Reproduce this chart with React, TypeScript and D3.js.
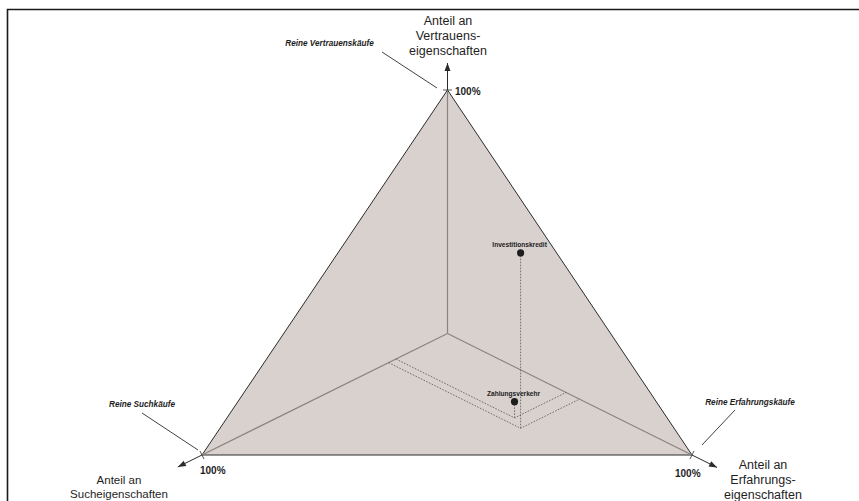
import React from "react";
import * as d3 from "d3";

const axisTitles = [
  ["Anteil an", "Vertrauens-", "eigenschaften"],
  ["Anteil an", "Sucheigenschaften"],
  ["Anteil an", "Erfahrungs-", "eigenschaften"],
];
const pureLabels = ["Reine Vertrauenskäufe", "Reine Suchkäufe", "Reine Erfahrungskäufe"];
const maxLabel = "100%";

const products = ["Investitionskredit", "Zahlungsverkehr"];
const suchAnteil = [0.24, 0.21];
const erfahrungAnteil = [0.54, 0.485];
const vertrauenAnteil = [0.72, 0.067];

const W = 859;
const H = 501;
const FONT = "'Liberation Sans', Arial, Helvetica, sans-serif";

const O = { x: 447.5, y: 333.5 };
const TOP = { x: 447.5, y: 90 };
const LEFT = { x: 202, y: 455 };
const RIGHT = { x: 692, y: 455 };

const sx = d3.scaleLinear().domain([0, 1]).range([0, LEFT.x - O.x]);
const sy = d3.scaleLinear().domain([0, 1]).range([0, LEFT.y - O.y]);
const ex = d3.scaleLinear().domain([0, 1]).range([0, RIGHT.x - O.x]);
const ey = d3.scaleLinear().domain([0, 1]).range([0, RIGHT.y - O.y]);
const vy = d3.scaleLinear().domain([0, 1]).range([0, TOP.y - O.y]);

function proj(s: number, e: number, v: number) {
  return { x: O.x + sx(s) + ex(e), y: O.y + sy(s) + ey(e) + vy(v) };
}

function arrowHead(from: { x: number; y: number }, to: { x: number; y: number }, len = 8, w = 3) {
  const dx = to.x - from.x;
  const dy = to.y - from.y;
  const d = Math.hypot(dx, dy);
  const ux = dx / d;
  const uy = dy / d;
  const bx = to.x - ux * len;
  const by = to.y - uy * len;
  const p = d3.path();
  p.moveTo(to.x, to.y);
  p.lineTo(bx - uy * w, by + ux * w);
  p.lineTo(bx + uy * w, by - ux * w);
  p.closePath();
  return p.toString();
}

function extend(v: { x: number; y: number }, dist: number) {
  const dx = v.x - O.x;
  const dy = v.y - O.y;
  const d = Math.hypot(dx, dy);
  return { x: v.x + (dx / d) * dist, y: v.y + (dy / d) * dist };
}

function tick(v: { x: number; y: number }, half = 4.5) {
  const dx = v.x - O.x;
  const dy = v.y - O.y;
  const d = Math.hypot(dx, dy);
  const px = -dy / d;
  const py = dx / d;
  return `M${v.x - px * half},${v.y - py * half}L${v.x + px * half},${v.y + py * half}`;
}

export default function App() {
  const tri = d3.line()([
    [TOP.x, TOP.y],
    [LEFT.x, LEFT.y],
    [RIGHT.x, RIGHT.y],
  ]) + "Z";

  const topEnd = { x: TOP.x, y: 63 };
  const leftEnd = extend(LEFT, 27);
  const rightEnd = extend(RIGHT, 28);

  const dash = { stroke: "#555", strokeWidth: 0.8, strokeDasharray: "1.6,1.4", fill: "none" };

  return (
    <svg width={W} height={H} style={{ position: "absolute", left: 0, top: 0, display: "block" }}>
      <rect width={W} height={H} fill="#fff" />
      <path d={`M7.5,${H}L7.5,9.5L${W},9.5`} fill="none" stroke="#1a1a1a" strokeWidth={1.6} />

      <path d={tri} fill="#d9d1ce" stroke="#2b2b2b" strokeWidth={1} />
      {[TOP, LEFT, RIGHT].map((v, i) => (
        <line key={i} x1={O.x} y1={O.y} x2={v.x} y2={v.y} stroke="#8d827d" strokeWidth={1.2} />
      ))}

      {products.map((p, i) => {
        const s = suchAnteil[i];
        const e = erfahrungAnteil[i];
        const v = vertrauenAnteil[i];
        const floor = proj(s, e, 0);
        const onS = proj(s, 0, 0);
        const onE = proj(0, e, 0);
        const pt = proj(s, e, v);
        return (
          <g key={p}>
            <path d={`M${onS.x},${onS.y}L${floor.x},${floor.y}L${onE.x},${onE.y}`} {...dash} />
            <line x1={floor.x} y1={floor.y} x2={pt.x} y2={pt.y} {...dash} />
            <circle cx={pt.x} cy={pt.y} r={3.6} fill="#1e1e1e" />
            <text
              x={pt.x - 1}
              y={pt.y - 5.5}
              textAnchor="middle"
              fontFamily={FONT}
              fontWeight="bold"
              fontSize={6.6}
              fill="#222"
            >
              {p}
            </text>
          </g>
        );
      })}

      {/* axis arrows */}
      {[
        [TOP, topEnd],
        [LEFT, leftEnd],
        [RIGHT, rightEnd],
      ].map(([a, b], i) => (
        <g key={i}>
          <line x1={a.x} y1={a.y} x2={b.x} y2={b.y} stroke="#2b2b2b" strokeWidth={1} />
          <path d={arrowHead(a, b)} fill="#2b2b2b" />
        </g>
      ))}
      <path d={`M${TOP.x - 4.5},${TOP.y}L${TOP.x + 4.5},${TOP.y}`} stroke="#2b2b2b" strokeWidth={0.8} />
      <path d={tick(LEFT)} stroke="#2b2b2b" strokeWidth={0.8} />
      <path d={tick(RIGHT)} stroke="#2b2b2b" strokeWidth={0.8} />

      {/* 100% labels */}
      <g fontFamily={FONT} fontWeight="bold" fontSize={10} fill="#1e1e1e">
        <text x={455} y={94.5}>{maxLabel}</text>
        <text x={200} y={474}>{maxLabel}</text>
        <text x={675} y={477}>{maxLabel}</text>
      </g>

      {/* axis titles */}
      <g fontFamily={FONT} fontSize={12.5} fill="#1e1e1e" textAnchor="middle">
        {axisTitles[0].map((t, i) => (
          <text key={i} x={448} y={24.5 + i * 15}>{t}</text>
        ))}
        {axisTitles[1].map((t, i) => (
          <text key={i} x={119} y={484 + i * 14} fontSize={11.5}>{t}</text>
        ))}
        {axisTitles[2].map((t, i) => (
          <text key={i} x={763} y={468.5 + i * 15}>{t}</text>
        ))}
      </g>

      {/* pure purchase labels */}
      <g fontFamily={FONT} fontWeight="bold" fontStyle="italic" fontSize={8.2} fill="#1e1e1e" textAnchor="middle">
        <text x={329.5} y={46}>{pureLabels[0]}</text>
        <text x={142} y={407}>{pureLabels[1]}</text>
        <text x={750} y={405}>{pureLabels[2]}</text>
      </g>
      <g stroke="#2b2b2b" strokeWidth={0.9}>
        <line x1={382} y1={52} x2={437} y2={88} />
        <line x1={142} y1={413} x2={198} y2={450} />
        <line x1={735} y1={410} x2={702} y2={445} />
      </g>
    </svg>
  );
}
